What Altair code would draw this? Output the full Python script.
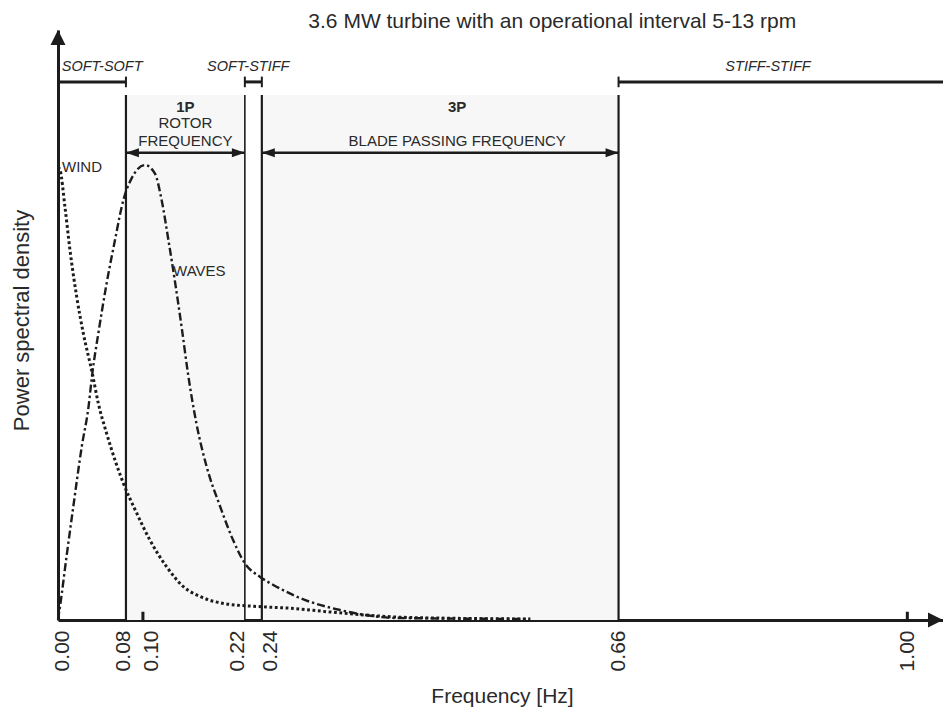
import altair as alt
import pandas as pd

# ---------------- data ----------------
wind_f = [0.0, 0.0024, 0.0082, 0.0141, 0.022, 0.0298, 0.0404, 0.0475, 0.0573, 0.0769,
          0.0927, 0.108, 0.128, 0.148, 0.167, 0.195, 0.234, 0.273, 0.320, 0.399, 0.462, 0.556]
wind_v = [0.768, 0.763, 0.700, 0.627, 0.548, 0.486, 0.418, 0.367, 0.316, 0.232,
          0.181, 0.136, 0.090, 0.056, 0.040, 0.028, 0.023, 0.020, 0.0136, 0.005, 0.003, 0.0017]

wave_f = [0.0, 0.0024, 0.010, 0.018, 0.028, 0.036, 0.0404, 0.0475, 0.0573, 0.0671, 0.077,
          0.0868, 0.1025, 0.114, 0.122, 0.130, 0.138, 0.146, 0.153, 0.163, 0.175, 0.191,
          0.206, 0.220, 0.238, 0.254, 0.273, 0.282, 0.332, 0.399, 0.556]
wave_v = [0.0, 0.023, 0.107, 0.192, 0.294, 0.362, 0.418, 0.486, 0.571, 0.644, 0.712,
          0.749, 0.771, 0.757, 0.712, 0.644, 0.571, 0.492, 0.418, 0.333, 0.260, 0.192,
          0.136, 0.096, 0.073, 0.059, 0.045, 0.039, 0.017, 0.0034, 0.0017]

tick_values = [0.00, 0.08, 0.10, 0.22, 0.24, 0.66, 1.00]
band_start = [0.08, 0.24]
band_end = [0.22, 0.66]
boundary_lines = [0.08, 0.22, 0.24, 0.66]
minor_ticks = [0.10, 1.00]

zone_names = ["SOFT-SOFT", "SOFT-STIFF", "STIFF-STIFF"]
zone_start = [0.0, 0.22, 0.66]
zone_end = [0.08, 0.24, 1.042]
zone_label_x = [0.052, 0.224, 0.836]
zone_end_ticks = [0.08, 0.22, 0.24, 0.66]

X_MAX = 1.042
TITLE = "3.6 MW  turbine with an operational interval 5-13 rpm"

FONT = "Liberation Sans"
INK = "#1c1c1c"
TXT = "#2a2a2a"

# ---------------- scales & axes ----------------
xs = alt.Scale(domain=[0, X_MAX], nice=False, zero=False)
ys = alt.Scale(domain=[0, 1], nice=False, zero=False)

label_offset = {
    "condition": [
        {"test": "datum.value == 0", "value": 4},
        {"test": "datum.value == 0.08", "value": -2},
        {"test": "datum.value == 0.1", "value": 9},
        {"test": "datum.value == 0.22", "value": -7},
        {"test": "datum.value == 0.24", "value": 9},
    ],
    "value": 0,
}

x_axis = alt.Axis(
    values=tick_values, format=".2f", labelAngle=270, labelAlign="right",
    labelBaseline="middle", labelPadding=10, labelFontSize=21, labelFont=FONT,
    labelColor=TXT, labelOverlap=False, labelFlush=False, labelOffset=label_offset,
    ticks=False, tickSize=0, grid=False, domain=True, domainColor=INK, domainWidth=3,
    title="Frequency [Hz]", titleFont=FONT, titleFontSize=21, titleFontWeight="normal",
    titleColor=TXT, titleX=444, titleY=82, titleBaseline="alphabetic", titleAlign="center",
)
y_axis = alt.Axis(
    labels=False, ticks=False, grid=False, domain=True, domainColor=INK, domainWidth=3,
    title="Power spectral density", titleFont=FONT, titleFontSize=22,
    titleFontWeight="normal", titleColor=TXT, titleAngle=270, titleX=-29.5,
    titleY=290, titleBaseline="alphabetic", titleAlign="center",
)

def X(field):
    return alt.X(field, type="quantitative", scale=xs, axis=x_axis)

def Y(field):
    return alt.Y(field, type="quantitative", scale=ys, axis=y_axis)

# ---------------- layers ----------------
bands = alt.Chart(pd.DataFrame({"a": band_start, "b": band_end, "y0": 0.0, "y1": 0.890})).mark_rect(
    color="#f7f7f7"
).encode(x=X("a"), x2="b", y=Y("y0"), y2="y1")

vlines = alt.Chart(pd.DataFrame({"f": boundary_lines, "y0": 0.0, "y1": 0.890,
                                 "w": [2.2, 1.6, 2.2, 2.2]})).mark_rule(color=INK).encode(
    x=X("f"), y=Y("y0"), y2="y1",
    strokeWidth=alt.StrokeWidth("w:Q", scale=None, legend=None),
)

minor = alt.Chart(pd.DataFrame({"f": minor_ticks, "y0": 0.0, "y1": 0.014})).mark_rule(
    color=INK, strokeWidth=3
).encode(x=X("f"), y=Y("y0"), y2="y1")

wind = alt.Chart(pd.DataFrame({"f": wind_f, "v": wind_v})).mark_line(
    color=INK, strokeWidth=3, strokeDash=[2.8, 2.6], interpolate="monotone", strokeCap="butt"
).encode(x=X("f"), y=Y("v"))

waves = alt.Chart(pd.DataFrame({"f": wave_f, "v": wave_v})).mark_line(
    color=INK, strokeWidth=2.4, strokeDash=[8, 3, 2.4, 3], interpolate="monotone", strokeCap="butt"
).encode(x=X("f"), y=Y("v"))

zones = pd.DataFrame({"name": zone_names, "a": zone_start, "b": zone_end, "lx": zone_label_x,
                      "y": 0.912, "ly": 0.937})
zone_bars = alt.Chart(zones).mark_rule(color=INK, strokeWidth=3).encode(
    x=X("a"), x2="b", y=Y("y"))
zone_ticks = alt.Chart(pd.DataFrame({"f": zone_end_ticks, "y0": 0.903, "y1": 0.921})).mark_rule(
    color=INK, strokeWidth=2).encode(x=X("f"), y=Y("y0"), y2="y1")
zone_text = alt.Chart(zones).mark_text(
    font=FONT, fontSize=14.5, fontStyle="italic", color=TXT, baseline="middle", align="center"
).encode(x=X("lx"), y=Y("ly"), text="name:N")

arrows = pd.DataFrame({"a": band_start, "b": band_end, "y": 0.792})
arrow_lines = alt.Chart(arrows).mark_rule(color=INK, strokeWidth=2.6).encode(
    x=X("a"), x2="b", y=Y("y"))
left_heads = alt.Chart(arrows).mark_point(
    shape="M0,0L2,-0.7L2,0.7Z", size=169, filled=True, opacity=1, color=INK
).encode(x=X("a"), y=Y("y"))
right_heads = alt.Chart(arrows).mark_point(
    shape="M0,0L-2,-0.7L-2,0.7Z", size=169, filled=True, opacity=1, color=INK
).encode(x=X("b"), y=Y("y"))

bold_txt = pd.DataFrame({"t": ["1P", "3P"], "x": [0.150, 0.470], "y": [0.869, 0.869]})
reg_txt = pd.DataFrame({"t": ["ROTOR", "FREQUENCY", "BLADE PASSING FREQUENCY"],
                        "x": [0.150, 0.150, 0.470], "y": [0.843, 0.812, 0.812]})
bold_layer = alt.Chart(bold_txt).mark_text(
    font=FONT, fontSize=15, fontWeight="bold", color=TXT, baseline="middle", align="center"
).encode(x=X("x"), y=Y("y"), text="t:N")
reg_layer = alt.Chart(reg_txt).mark_text(
    font=FONT, fontSize=15, color=TXT, baseline="middle", align="center"
).encode(x=X("x"), y=Y("y"), text="t:N")

curve_txt = pd.DataFrame({"t": ["WIND", "WAVES"], "x": [0.0047, 0.1355], "y": [0.767, 0.592]})
curve_layer = alt.Chart(curve_txt).mark_text(
    font=FONT, fontSize=15, color=TXT, baseline="middle", align="left"
).encode(x=X("x"), y=Y("y"), text="t:N")

title_layer = alt.Chart(pd.DataFrame({"t": [TITLE], "x": [0.582], "y": [1.004]})).mark_text(
    font=FONT, fontSize=21, color=TXT, baseline="alphabetic", align="center"
).encode(x=X("x"), y=Y("y"), text="t:N")

y_arrow = alt.Chart(pd.DataFrame({"x": [0.0], "y": [1.0]})).mark_point(
    shape="M0,0L1,2L-1,2Z", size=225, filled=True, opacity=1, color=INK
).encode(x=X("x"), y=Y("y"))
x_arrow = alt.Chart(pd.DataFrame({"x": [X_MAX], "y": [0.0]})).mark_point(
    shape="M0,0L-2,-1L-2,1Z", size=225, filled=True, opacity=1, color=INK
).encode(x=X("x"), y=Y("y"))

chart = alt.layer(
    bands, vlines, minor, wind, waves, zone_bars, zone_ticks, zone_text,
    arrow_lines, left_heads, right_heads, bold_layer, reg_layer, curve_layer,
    title_layer, y_arrow, x_arrow,
).properties(
    width=885, height=590,
    autosize=alt.AutoSizeParams(type="none"),
    padding={"left": 50, "top": 22, "right": 0, "bottom": 89},
    background="white",
).configure_view(stroke=None)

chart.save("out.html", embed_options={"renderer": "svg", "actions": False})
